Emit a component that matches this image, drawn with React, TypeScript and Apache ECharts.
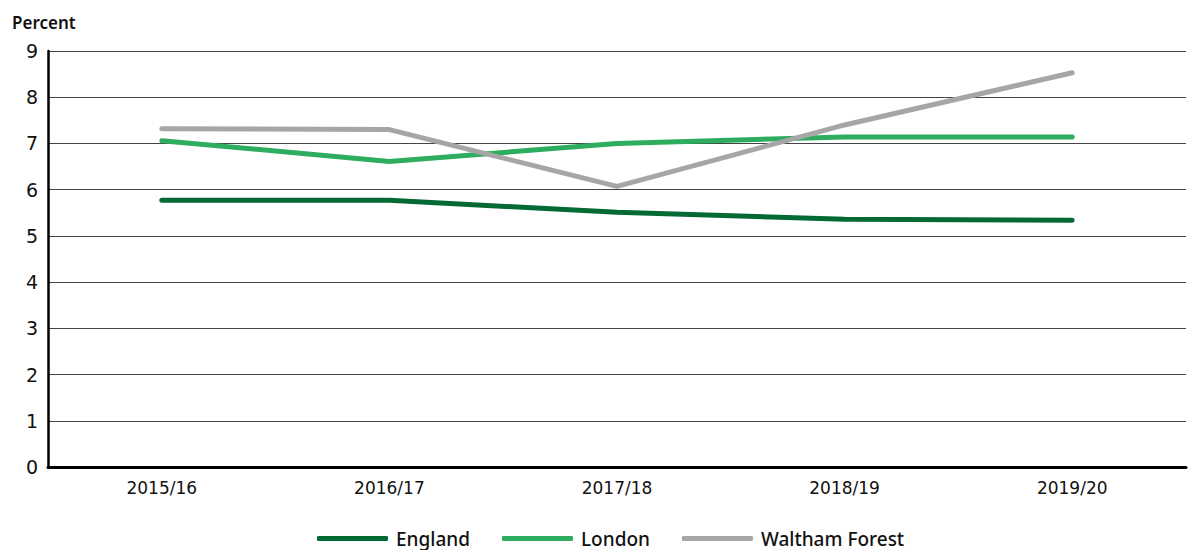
import React, { useEffect, useRef } from "react";
import * as echarts from "echarts";

const categories = ["2015/16", "2016/17", "2017/18", "2018/19", "2019/20"];
const england = [5.77, 5.77, 5.51, 5.36, 5.34];
const london = [7.06, 6.61, 7.0, 7.14, 7.14];
const walthamForest = [7.32, 7.3, 6.07, 7.4, 8.53];
const yTicks = [0, 1, 2, 3, 4, 5, 6, 7, 8, 9];

const FONT = "'Noto Sans', sans-serif";
const NUMFONT = "'DejaVu Sans', sans-serif";

export default function App() {
  const ref = useRef<HTMLDivElement>(null);
  useEffect(() => {
    if (!ref.current) return;
    const chart = echarts.init(ref.current, undefined, { renderer: "svg" });
    const mkSeries = (name: string, data: number[], color: string) => ({
      name,
      type: "line",
      data,
      showSymbol: false,
      symbol: "none",
      lineStyle: { color, width: 5, cap: "round", join: "round" },
      itemStyle: { color },
      z: 3,
    });
    chart.setOption({
      animation: false,
      textStyle: { fontFamily: FONT },
      grid: { left: 48, right: 3, top: 51, bottom: 83, containLabel: false },
      legend: {
        bottom: -3,
        left: 312,
        itemWidth: 71,
        itemHeight: 5,
        itemGap: 32,
        icon: "roundRect",
        textStyle: { fontSize: 19, fontWeight: 500, color: "#111", fontFamily: FONT, padding: [0, 0, 0, 3] },
        data: ["England", "London", "Waltham Forest"],
      },
      graphic: [
        {
          type: "text",
          left: 12,
          top: 14,
          style: { text: "Percent", font: `600 17px ${FONT}`, fill: "#111" },
        },
      ],
      xAxis: {
        type: "category",
        data: categories,
        boundaryGap: true,
        axisLine: { lineStyle: { color: "#000", width: 3 } },
        axisTick: { show: false },
        axisLabel: { color: "#111", fontSize: 17, margin: 12, fontFamily: NUMFONT },
        splitLine: { show: false },
      },
      yAxis: {
        type: "value",
        min: yTicks[0],
        max: yTicks[yTicks.length - 1],
        interval: 1,
        axisLine: { show: true, lineStyle: { color: "#000", width: 2.5 } },
        axisTick: { show: false },
        axisLabel: { color: "#111", fontSize: 19, margin: 10, fontFamily: NUMFONT },
        splitLine: { lineStyle: { color: "#444", width: 1 } },
      },
      series: [
        mkSeries("England", england, "#036A35"),
        mkSeries("London", london, "#2EAD5F"),
        mkSeries("Waltham Forest", walthamForest, "#A6A6A6"),
      ],
    });
    return () => chart.dispose();
  }, []);
  return (
    <div
      ref={ref}
      style={{ position: "fixed", left: 0, top: 0, width: 1189, height: 550, background: "#fff" }}
    />
  );
}
